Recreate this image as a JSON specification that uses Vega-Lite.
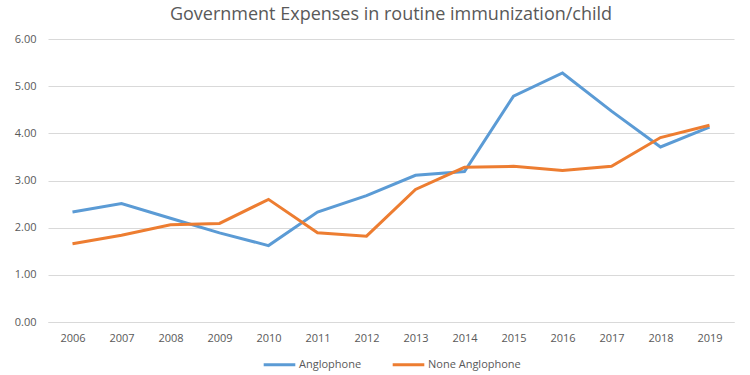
{
  "$schema": "https://vega.github.io/schema/vega-lite/v6.json",
  "width": 750,
  "height": 375,
  "autosize": {"type": "fit", "contains": "padding"},
  "padding": {"top": 6, "left": 14, "right": 16, "bottom": 4},
  "background": "white",
  "title": {
    "text": "Government Expenses in  routine  immunization/child",
    "font": "Open Sans",
    "fontSize": 18,
    "fontWeight": "normal",
    "color": "#595959",
    "anchor": "middle",
    "offset": 9
  },
  "data": {
    "values": [
      {"year": "2006", "series": "Anglophone", "value": 2.33},
      {"year": "2007", "series": "Anglophone", "value": 2.51},
      {"year": "2008", "series": "Anglophone", "value": 2.2},
      {"year": "2009", "series": "Anglophone", "value": 1.89},
      {"year": "2010", "series": "Anglophone", "value": 1.62},
      {"year": "2011", "series": "Anglophone", "value": 2.33},
      {"year": "2012", "series": "Anglophone", "value": 2.68},
      {"year": "2013", "series": "Anglophone", "value": 3.11},
      {"year": "2014", "series": "Anglophone", "value": 3.19},
      {"year": "2015", "series": "Anglophone", "value": 4.79},
      {"year": "2016", "series": "Anglophone", "value": 5.28},
      {"year": "2017", "series": "Anglophone", "value": 4.47},
      {"year": "2018", "series": "Anglophone", "value": 3.71},
      {"year": "2019", "series": "Anglophone", "value": 4.13},
      {"year": "2006", "series": "None Anglophone", "value": 1.66},
      {"year": "2007", "series": "None Anglophone", "value": 1.84},
      {"year": "2008", "series": "None Anglophone", "value": 2.06},
      {"year": "2009", "series": "None Anglophone", "value": 2.09},
      {"year": "2010", "series": "None Anglophone", "value": 2.6},
      {"year": "2011", "series": "None Anglophone", "value": 1.89},
      {"year": "2012", "series": "None Anglophone", "value": 1.82},
      {"year": "2013", "series": "None Anglophone", "value": 2.81},
      {"year": "2014", "series": "None Anglophone", "value": 3.28},
      {"year": "2015", "series": "None Anglophone", "value": 3.3},
      {"year": "2016", "series": "None Anglophone", "value": 3.21},
      {"year": "2017", "series": "None Anglophone", "value": 3.3},
      {"year": "2018", "series": "None Anglophone", "value": 3.91},
      {"year": "2019", "series": "None Anglophone", "value": 4.17}
    ]
  },
  "mark": {"type": "line", "strokeWidth": 3},
  "encoding": {
    "x": {
      "field": "year",
      "type": "ordinal",
      "title": null,
      "axis": {
        "labelAngle": 0,
        "labelFont": "Open Sans",
        "labelFontSize": 11,
        "labelColor": "#595959",
        "ticks": false,
        "domainColor": "#d9d9d9",
        "labelPadding": 10
      }
    },
    "y": {
      "field": "value",
      "type": "quantitative",
      "title": null,
      "scale": {"domain": [0, 6]},
      "axis": {
        "values": [0, 1, 2, 3, 4, 5, 6],
        "format": ".2f",
        "labelFont": "Open Sans",
        "labelFontSize": 11,
        "labelColor": "#595959",
        "ticks": false,
        "domain": false,
        "gridColor": "#d9d9d9",
        "labelPadding": 12
      }
    },
    "color": {
      "field": "series",
      "type": "nominal",
      "title": null,
      "scale": {"domain": ["Anglophone", "None Anglophone"], "range": ["#5b9bd5", "#ed7d31"]},
      "legend": {
        "orient": "bottom",
        "direction": "horizontal",
        "symbolType": "stroke",
        "symbolStrokeWidth": 3,
        "symbolSize": 1000,
        "labelFont": "Open Sans",
        "labelFontSize": 11,
        "labelColor": "#595959",
        "labelOffset": 2,
        "columnPadding": 24,
        "offset": 4
      }
    }
  },
  "config": {
    "view": {"stroke": null},
    "legend": {"layout": {"bottom": {"anchor": "middle"}}}
  }
}
